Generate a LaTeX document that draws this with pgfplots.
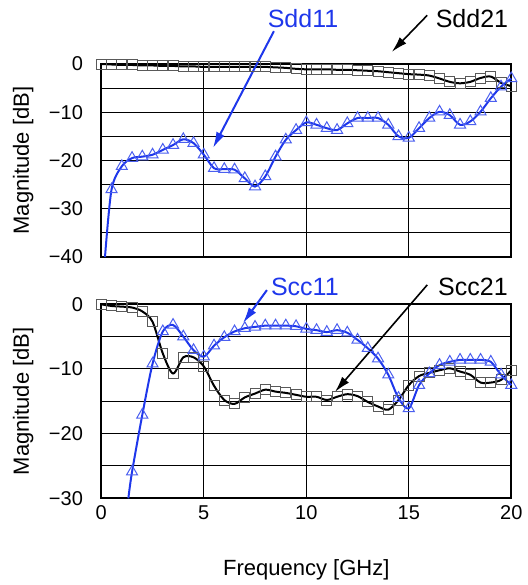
\documentclass[border=0pt]{standalone}
\usepackage{fontspec}
\setmainfont{Liberation Sans}
\usepackage{pgfplots}
\pgfplotsset{compat=1.18}
\usetikzlibrary{arrows.meta}

\definecolor{sblue}{RGB}{30,55,235}

\tikzset{note/.style={font=\fontsize{12.5}{14}\selectfont}}

\pgfplotsset{
  sparam/.style={
    scale only axis, width=205pt,
    xmin=0, xmax=20,
    xtick={0,5,10,15,20},
    grid=both,
    major grid style={black, line width=0.5pt},
    minor grid style={black, line width=0.5pt},
    axis line style={line width=1pt},
    major tick length=0pt, minor tick length=0pt,
    clip=false,
    tick label style={font=\fontsize{10}{12}\selectfont},
    yticklabel style={anchor=east, inner sep=0pt, xshift=-9pt},
    xticklabel style={anchor=north, inner sep=0pt, yshift=-3.5pt},
    every axis y label/.style={at={(axis description cs:0,0.5)}, xshift=-39pt,
      rotate=90, anchor=center, font=\fontsize{11}{13}\selectfont},
    every axis x label/.style={at={(axis description cs:0.5,0)}, yshift=-36pt,
      anchor=center, font=\fontsize{11}{13}\selectfont},
    ylabel={Magnitude [dB]},
  },
  sq/.style={black, line width=1pt, smooth,
    mark=square, mark size=2.5pt,
    mark options={black!65, line width=0.5pt, solid}},
  tri/.style={sblue, line width=1pt, smooth,
    mark=triangle, mark size=3.2pt,
    mark options={sblue!80, line width=0.5pt, solid}},
}

\begin{document}
\begin{tikzpicture}

\begin{axis}[sparam, name=top, at={(0,0)}, anchor=south west,
    height=96.5pt, ymin=-40, ymax=0,
    ytick={-40,-30,-20,-10,0},
    yticklabels={−40,−30,−20,−10,0},
    minor ytick={-35,-25,-15,-5},
    xticklabels={}]

% Sdd21
\addplot[sq] coordinates {
(0,0)(0.5,-0.1)(1,-0.2)(1.5,-0.2)(2,-0.3)(2.5,-0.3)(3,-0.4)(3.5,-0.4)
(4,-0.5)(4.5,-0.5)(5,-0.6)(5.5,-0.6)(6,-0.6)(6.5,-0.6)(7,-0.6)(7.5,-0.6)
(8,-0.6)(8.5,-0.7)(9,-0.8)(9.5,-1.0)(10,-1.1)(10.5,-1.1)(11,-1.1)(11.5,-1.2)
(12,-1.2)(12.5,-1.3)(13,-1.4)(13.5,-1.5)(14,-1.7)(14.5,-1.9)(15,-2.1)(15.5,-2.2)
(16,-2.4)(16.5,-3.0)(17,-3.7)(17.5,-4.0)(18,-3.7)(18.5,-2.9)(19,-2.6)(19.5,-3.9)
(20,-4.6)};

% Sdd11
\addplot[tri, mark indices={2,...,41}] coordinates {
(0.18,-40)(0.5,-26)(1,-21.2)(1.5,-19.5)(2,-19.2)(2.5,-18.8)(3,-17.8)(3.5,-16.8)
(4,-15.6)(4.5,-16.4)(5,-18.8)(5.5,-21.6)(6,-21.8)(6.5,-21.9)(7,-23.7)(7.5,-25.4)
(8,-23.3)(8.5,-19.2)(9,-15.7)(9.5,-13.7)(10,-12.1)(10.5,-12.6)(11,-13.3)(11.5,-13.7)
(12,-12.3)(12.5,-11.2)(13,-11.2)(13.5,-11.2)(14,-12.6)(14.5,-15.0)(15,-15.3)(15.5,-13.3)
(16,-11.2)(16.5,-9.9)(17,-10.6)(17.5,-12.6)(18,-11.9)(18.5,-9.9)(19,-7.1)(19.5,-4.7)
(20,-3.0)};

\node[note, text=sblue] at (axis cs:9.84,9.5) {Sdd11};
\draw[sblue, line width=1pt, -{Latex[length=8pt,width=4.5pt]}]
  (axis cs:8.42,6.8) -- (axis cs:5.45,-17.4);
\node[note] at (axis cs:18.08,9.5) {Sdd21};
\draw[black, line width=0.8pt, -{Latex[length=8pt,width=4.5pt]}]
  (axis cs:15.9,10.1) -- (axis cs:14.17,2.5);
\end{axis}

\begin{axis}[sparam, name=bot, at={(0,-120.65pt)}, anchor=south west,
    height=97pt, ymin=-30, ymax=0,
    ytick={-30,-20,-10,0},
    yticklabels={−30,−20,−10,0},
    minor ytick={-25,-15,-5},
    xticklabels={0,5,10,15,20},
    xlabel={Frequency [GHz]}]

% Scc21
\addplot[sq] coordinates {
(0,0)(0.5,-0.26)(1,-0.36)(1.5,-0.5)(2,-1.1)(2.5,-2.7)(3,-7.6)(3.5,-10.7)
(4,-8.2)(4.5,-8.2)(5,-9.6)(5.5,-12.6)(6,-14.8)(6.5,-15.4)(7,-14.4)(7.5,-13.8)
(8,-13.2)(8.5,-13.5)(9,-13.7)(9.5,-14.0)(10,-14.3)(10.5,-14.3)(11,-14.8)(11.5,-14.3)
(12,-13.9)(12.5,-14.2)(13,-15.1)(13.5,-15.8)(14,-16.3)(14.5,-14.8)(15,-12.5)(15.5,-11.1)
(16,-10.6)(16.5,-10.2)(17,-9.9)(17.5,-10.4)(18,-10.9)(18.5,-12.1)(19,-12.1)(19.5,-11.7)
(20,-10.2)};

% Scc11
\addplot[tri, mark indices={2,...,39}] coordinates {
(1.32,-30)(1.5,-25.9)(2,-17.1)(2.5,-9.2)(3,-4.2)(3.5,-3.2)(4,-5.0)(4.5,-7.1)
(5,-8.1)(5.5,-6.4)(6,-5.1)(6.5,-4.2)(7,-3.7)(7.5,-3.5)(8,-3.3)(8.5,-3.3)
(9,-3.3)(9.5,-3.4)(10,-3.8)(10.5,-4.0)(11,-4.3)(11.5,-4.0)(12,-4.4)(12.5,-5.5)
(13,-6.8)(13.5,-8.4)(14,-10.9)(14.5,-14.5)(15,-16.1)(15.5,-12.5)(16,-10.7)(16.5,-9.4)
(17,-8.9)(17.5,-8.6)(18,-8.6)(18.5,-8.6)(19,-8.9)(19.5,-10.9)(20,-12.5)};

\node[note, text=sblue] at (axis cs:9.93,2.67) {Scc11};
\draw[sblue, line width=1pt, -{Latex[length=8pt,width=4.5pt]}]
  (axis cs:8.08,2.2) -- (axis cs:6.91,-2.9);
\node[note] at (axis cs:18.13,2.67) {Scc21};
\draw[black, line width=0.8pt, -{Latex[length=8pt,width=4.5pt]}]
  (axis cs:15.9,3.0) -- (axis cs:11.4,-13.55);
\end{axis}

\pgfresetboundingbox
\useasboundingbox (-50.65pt,-164pt) rectangle (212.85pt,128.5pt);
\end{tikzpicture}
\end{document}
